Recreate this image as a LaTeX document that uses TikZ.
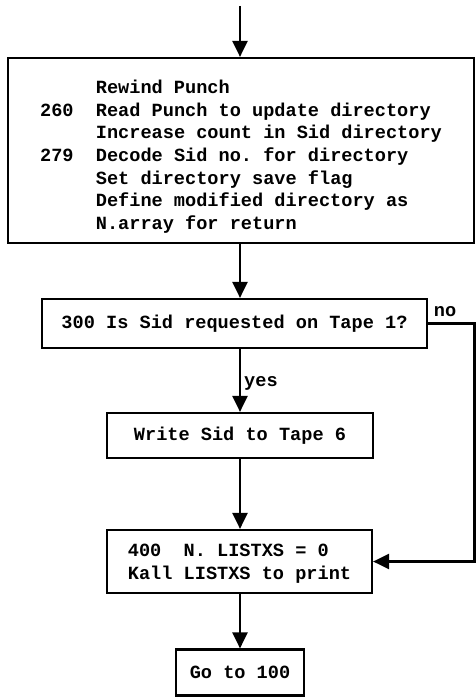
\documentclass[tikz,border=0pt]{standalone}
\usepackage{fontspec}
\newfontfamily\tw{Liberation Mono}
\usetikzlibrary{arrows.meta}
\begin{document}
\begin{tikzpicture}[x=1bp,y=-1bp,
  txt/.style={font=\tw\bfseries\fontsize{18.6bp}{22.6bp}\selectfont,
    execute at begin node={\spaceskip=0.6em\relax\xspaceskip=0.6em\relax}},
  box/.style={txt, draw, line width=2.2bp, inner sep=0pt},
  arr/.style={line width=2.4bp, -{Triangle[length=16bp,width=15bp]}},
  lbl/.style={txt, inner sep=0pt}]
\useasboundingbox (0,0) rectangle (476,697);
\coordinate (ax) at (240,0);
\coordinate (top) at (240,6);
\coordinate (rt) at (474.5,0);
\node[box, minimum width=466bp, minimum height=185bp, align=left] (b1) at (241,150.5)
 {\rule{0pt}{26bp}\hphantom{260~~}Rewind Punch\\
  260~~Read Punch to update directory\\
  \hphantom{260~~}Increase count in Sid directory\\
  279~~Decode Sid no. for directory\\
  \hphantom{260~~}Set directory save flag\\
  \hphantom{260~~}Define modified directory as\\
  \hphantom{260~~}N.array for return};
\node[box, minimum width=385bp, minimum height=49bp] (b2) at (234.5,323.5) {300 Is Sid requested on Tape 1?};
\node[box, minimum width=266bp, minimum height=45bp] (b3) at (240,435.5) {Write Sid to Tape 6};
\node[box, minimum width=265bp, minimum height=63bp, align=left] (b4) at (239.5,561.5) {\rule{0pt}{17bp}400~~N. LISTXS = 0\\Kall LISTXS to print};
\node[box, minimum width=128bp, minimum height=46bp] (b5) at (240,672.5) {Go to 100};
\node[lbl] (no) at (445,312) {no};
\draw[arr] (top) -- (top |- b1.north);
\draw[arr] (ax |- b1.south) -- (ax |- b2.north);
\draw[arr] (ax |- b2.south) -- node[lbl, right=3bp, yshift=-3bp] (yes) {yes} (ax |- b3.north);
\draw[arr] (ax |- b3.south) -- (ax |- b4.north);
\draw[arr] (ax |- b4.south) -- (ax |- b5.north);
\draw[arr] (b2.east) -- (rt |- b2.east) -- (rt |- b4.east) -- (b4.east);
\end{tikzpicture}
\end{document}
